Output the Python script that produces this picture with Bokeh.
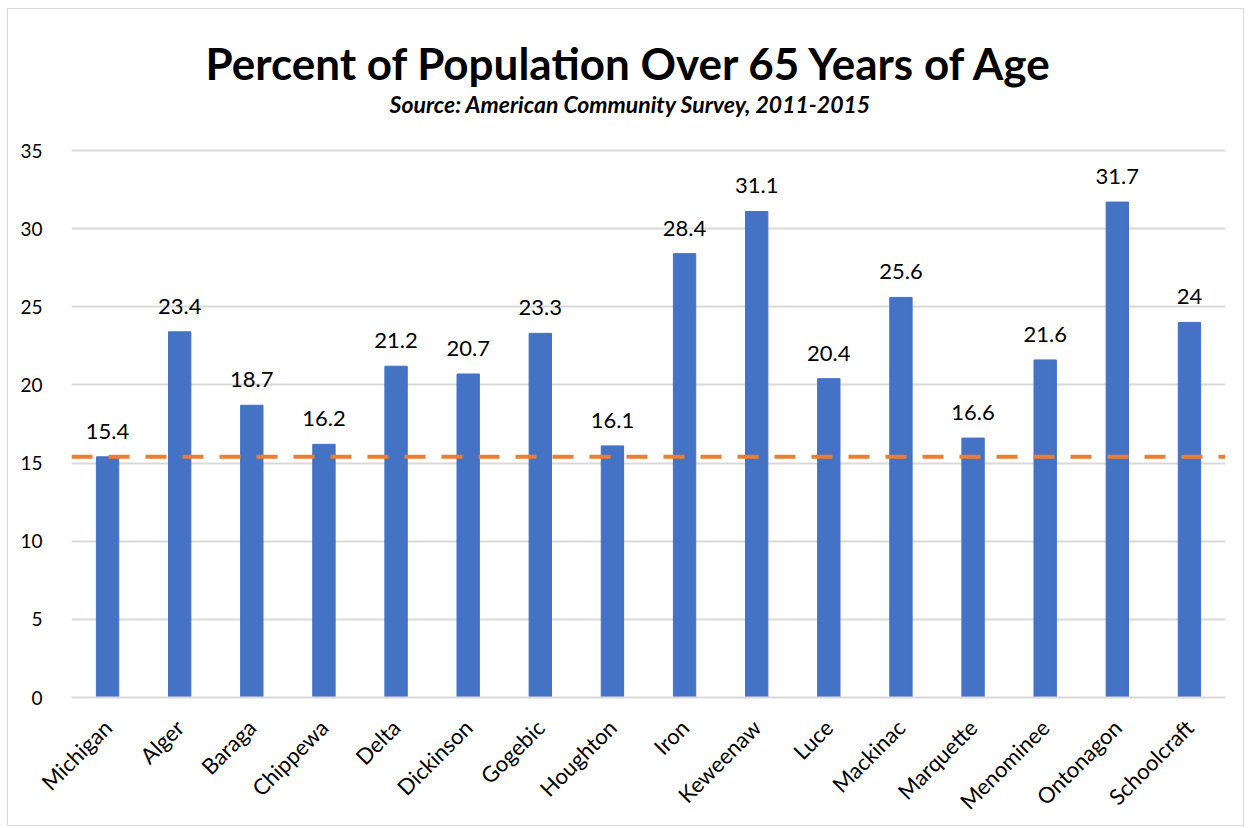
from bokeh.plotting import figure
from bokeh.models import ColumnDataSource, Span, Label, FactorRange, LabelSet, Range1d
from bokeh.core.properties import value
from bokeh.embed import file_html
from bokeh.resources import INLINE
import math

categories = ["Michigan", "Alger", "Baraga", "Chippewa", "Delta", "Dickinson", "Gogebic",
              "Houghton", "Iron", "Keweenaw", "Luce", "Mackinac", "Marquette", "Menominee",
              "Ontonagon", "Schoolcraft"]
values = [15.4, 23.4, 18.7, 16.2, 21.2, 20.7, 23.3, 16.1, 28.4, 31.1, 20.4, 25.6, 16.6, 21.6, 31.7, 24]
labels = ["15.4", "23.4", "18.7", "16.2", "21.2", "20.7", "23.3", "16.1", "28.4", "31.1",
          "20.4", "25.6", "16.6", "21.6", "31.7", "24"]
y_ticks = [0, 5, 10, 15, 20, 25, 30, 35]
reference_value = values[0]

FONT = "Lato"

src = ColumnDataSource(dict(cat=categories, val=values, lab=labels))

# frame extends to the top of the figure so the titles can sit inside it (above 35)
y_top = 35 * 688 / 547
p = figure(x_range=FactorRange(*categories, range_padding=0), y_range=Range1d(0, y_top),
           width=1237, height=818, output_backend="svg", toolbar_location=None,
           min_border_left=63, min_border_right=20, min_border_top=0, min_border_bottom=130)
p.x_range.factor_padding = 0
p.background_fill_color = "white"
p.border_fill_color = "white"
p.outline_line_color = None

p.vbar(x="cat", top="val", width=0.31, source=src, color="#4472C4")

p.add_layout(Span(location=reference_value, dimension="width", line_color="#ED7D31",
                  line_width=4, line_dash="21 16"))

p.add_layout(LabelSet(x="cat", y="val", text="lab", source=src, text_align="center",
                      text_baseline="bottom", y_offset=18, text_font=value(FONT),
                      text_font_size="22px", text_color="#000000"))

p.yaxis.ticker = y_ticks
p.yaxis.axis_line_color = None
p.yaxis.major_tick_line_color = None
p.yaxis.minor_tick_line_color = None
p.yaxis.major_label_text_font = FONT
p.yaxis.major_label_text_font_size = "19px"
p.yaxis.major_label_text_color = "#000000"
p.yaxis.major_label_standoff = 23

p.xaxis.axis_line_color = "#D9D9D9"
p.xaxis.axis_line_width = 2
p.xaxis.major_tick_line_color = None
p.xaxis.minor_tick_line_color = None
p.xaxis.major_label_orientation = math.pi / 4
p.xaxis.major_label_text_font = FONT
p.xaxis.major_label_text_font_size = "22px"
p.xaxis.major_label_text_color = "#000000"
p.xaxis.major_label_standoff = 20

p.xgrid.grid_line_color = None
p.ygrid.grid_line_color = "#D9D9D9"
p.ygrid.grid_line_width = 2

p.add_layout(Label(x=7.75, y=40.63, text="Percent of Population Over 65 Years of Age",
                   text_align="center", text_baseline="middle", text_font=FONT,
                   text_font_style="bold", text_font_size="44px", text_color="#000000"))
p.add_layout(Label(x=7.75, y=38.0, text="Source: American Community Survey, 2011-2015",
                   text_align="center", text_baseline="middle", text_font=FONT,
                   text_font_style="bold italic", text_font_size="23px", text_color="#000000"))

p.styles = {"border": "1px solid #D9D9D9", "margin-left": "7px", "margin-top": "8px"}

open("out.html", "w").write(file_html(p, INLINE))
